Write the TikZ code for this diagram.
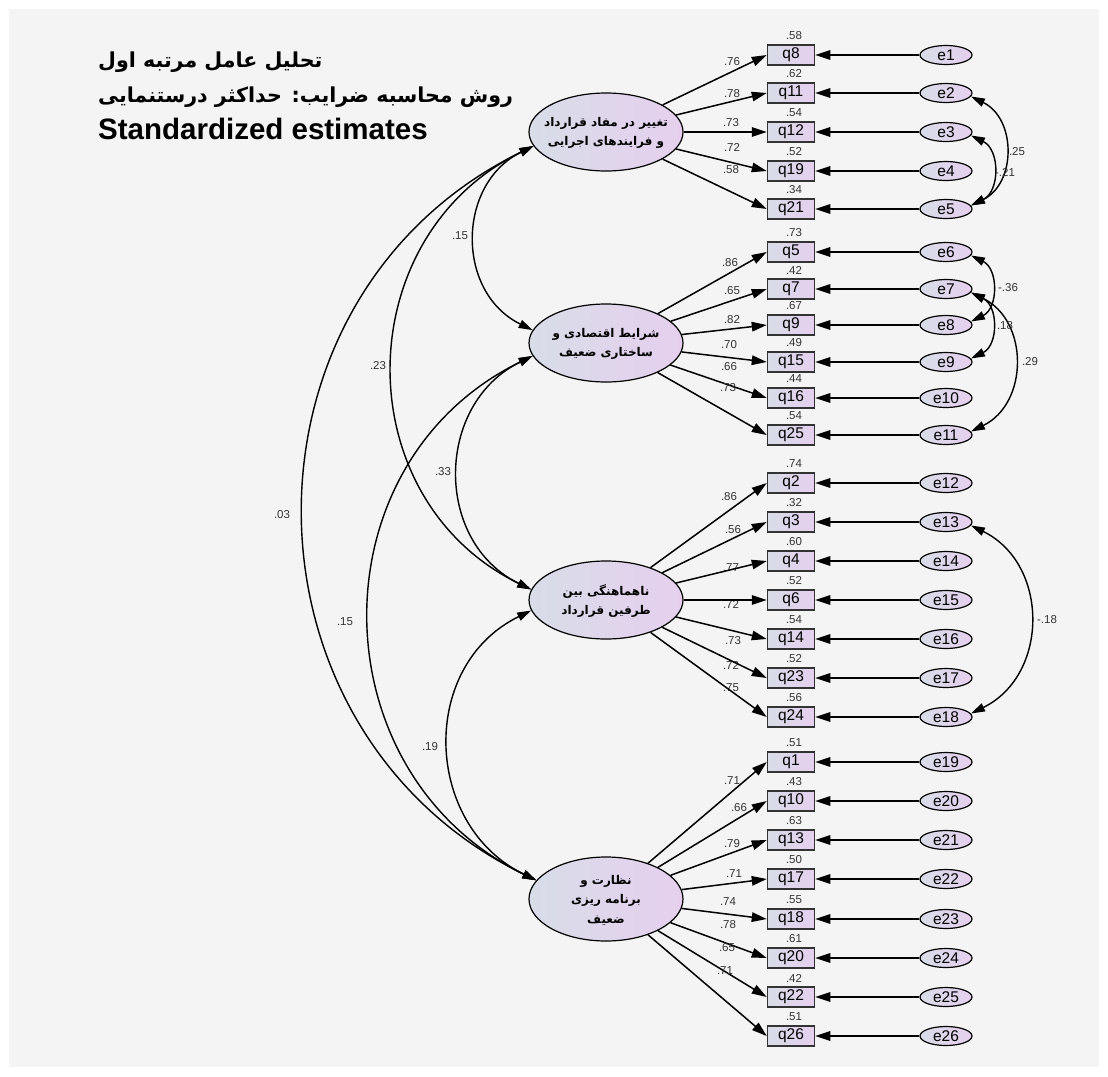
\documentclass[tikz,border=0pt]{standalone}
\usepackage{fontspec}
\setmainfont{Liberation Sans}
\newfontfamily\fa[Script=Arabic]{DejaVu Sans}
\TeXXeTstate=1
\usetikzlibrary{arrows.meta,shapes.geometric}
\definecolor{bg}{HTML}{F4F4F4}
\definecolor{lc}{HTML}{D8DDE8}
\definecolor{rc}{HTML}{E6CFEE}
\definecolor{numc}{HTML}{333333}
\tikzset{
 obs/.style={rectangle, draw=black!80, line width=1.5pt, left color=lc, right color=rc, minimum width=47pt, minimum height=20pt, inner sep=0pt, font=\fontsize{15.5}{15.5}\selectfont},
 err/.style={ellipse, draw=black, line width=1.2pt, left color=lc, right color=rc, minimum width=52pt, minimum height=19pt, inner sep=0pt, font=\fontsize{15.5}{15.5}\selectfont},
 lat/.style={ellipse, draw=black, line width=1.2pt, left color=lc, right color=rc, minimum width=154pt, minimum height=78pt, inner sep=0pt},
 lattext/.style={align=center, inner sep=0pt, font=\fa\bfseries\fontsize{12}{19.5}\selectfont},
 arr/.style={line width=1.5pt, -{Triangle[length=15pt,width=9.5pt]}},
 cov/.style={line width=1.4pt, {Triangle[length=14pt,width=8.5pt]}-{Triangle[length=14pt,width=8.5pt]}},
 lcov/.style={cov, out=206, in=154, looseness=1.19},
 rcov/.style={cov, out=-26, in=26, looseness=1.19},
 num/.style={font=\fontsize{11.5}{11.5}\selectfont, text=numc, inner sep=0pt},
 ttl/.style={anchor=west, inner sep=0pt},
}
\begin{document}
\begin{tikzpicture}[x=1pt,y=1pt]
\useasboundingbox (0,0) rectangle (1108,-1076);
\fill[white] (0,0) rectangle (1108,-1076);
\fill[bg] (9,-9) rectangle (1099,-1067);

% title
\node[ttl, font=\fa\bfseries\fontsize{20.6}{20.6}\selectfont] (t1) at (98,-62) {\beginR تحلیل عامل مرتبه اول\endR};
\node[ttl, font=\fa\bfseries\fontsize{20.6}{20.6}\selectfont] (t2) at (98,-97) {\beginR روش محاسبه ضرایب: حداکثر درستنمایی\endR};
\node[ttl, font=\bfseries\fontsize{29.5}{29.5}\selectfont] (t3) at (98,-129) {Standardized estimates};

% latent variables
\node[lat] (F1) at (606,-132) {};
\node[lattext] (F1t) at (606,-133) {\beginR تغییر در مفاد قرارداد\endR\\\beginR و فرایندهای اجرایی\endR};
\node[lat] (F2) at (606,-343) {};
\node[lattext] (F2t) at (606,-344) {\beginR شرایط اقتصادی و\endR\\\beginR ساختاری ضعیف\endR};
\node[lat] (F3) at (606,-600) {};
\node[lattext] (F3t) at (606,-601) {\beginR ناهماهنگی بین\endR\\\beginR طرفین قرارداد\endR};
\node[lat, minimum height=84pt] (F4) at (606,-899) {};
\node[lattext] (F4t) at (606,-900) {\beginR نظارت و\endR\\\beginR برنامه ریزی\endR\\\beginR ضعیف\endR};

% indicators
\foreach \F/\qn/\yy/\rs/\ld/\lx/\ly/\en in {
 F1/q8/55/.58/.76/732/62/e1,
 F1/q11/93/.62/.78/732/94/e2,
 F1/q12/132/.54/.73/731/123/e3,
 F1/q19/171/.52/.72/732/147/e4,
 F1/q21/209/.34/.58/731/170/e5,
 F2/q5/252/.73/.86/730/263/e6,
 F2/q7/289/.42/.65/732/291/e7,
 F2/q9/325/.67/.82/732/320/e8,
 F2/q15/362/.49/.70/729/345/e9,
 F2/q16/398/.44/.66/729/367/e10,
 F2/q25/435/.54/.73/728/388/e11,
 F3/q2/483/.74/.86/729/497/e12,
 F3/q3/522/.32/.56/733/530/e13,
 F3/q4/561/.60/.77/731/568/e14,
 F3/q6/600/.52/.72/731/604/e15,
 F3/q14/639/.54/.73/733/641/e16,
 F3/q23/678/.52/.72/731/665/e17,
 F3/q24/717/.56/.75/731/688/e18,
 F4/q1/762/.51/.71/732/781/e19,
 F4/q10/801/.43/.66/739/808/e20,
 F4/q13/840/.63/.79/732/844/e21,
 F4/q17/879/.50/.71/734/874/e22,
 F4/q18/919/.55/.74/728/902/e23,
 F4/q20/958/.61/.78/728/925/e24,
 F4/q22/997/.42/.65/727/948/e25,
 F4/q26/1036/.51/.71/725/971/e26}{
  \node[obs] (\qn) at (791,-\yy) {\qn};
  \node[err] (\en) at (946,-\yy) {\en};
  \node[num] (r\qn) at (794,{19-\yy}) {\rs};
  \node[num] (l\qn) at (\lx,-\ly) {\ld};
  \draw[arr] (\en) -- (\qn);
  \draw[arr] (\F) -- (\qn.west);
}

% factor covariances
\draw[lcov] (F1.191) to (F2.170);
\draw[lcov] (F1.191) to (F3.172);
\draw[lcov] (F1.191) to (F4.165);
\draw[lcov] (F2.190) to (F3.172);
\draw[lcov] (F2.190) to (F4.165);
\draw[lcov] (F3.188) to (F4.165);
\node[num] (c12) at (460,-236) {.15};
\node[num] (c13) at (378,-366) {.23};
\node[num] (c14) at (282,-515) {.03};
\node[num] (c23) at (443,-472) {.33};
\node[num] (c24) at (345,-622) {.15};
\node[num] (c34) at (430,-747) {.19};

% error covariances
\draw[rcov] (e2.-8) to (e5.8);
\draw[rcov] (e3.-8) to (e5.8);
\draw[rcov] (e6.-8) to (e8.8);
\draw[rcov] (e7.-8) to (e9.8);
\draw[rcov] (e7.-8) to (e11.8);
\draw[rcov] (e13.-8) to (e18.8);
\node[num] (ce25) at (1017,-152) {.25};
\node[num] (ce35) at (1005,-172) {-.21};
\node[num] (ce68) at (1008,-288) {-.36};
\node[num] (ce79) at (1005,-326) {.18};
\node[num] (ce711) at (1030,-362) {.29};
\node[num] (ce1318) at (1047,-620) {-.18};
\end{tikzpicture}
\end{document}
